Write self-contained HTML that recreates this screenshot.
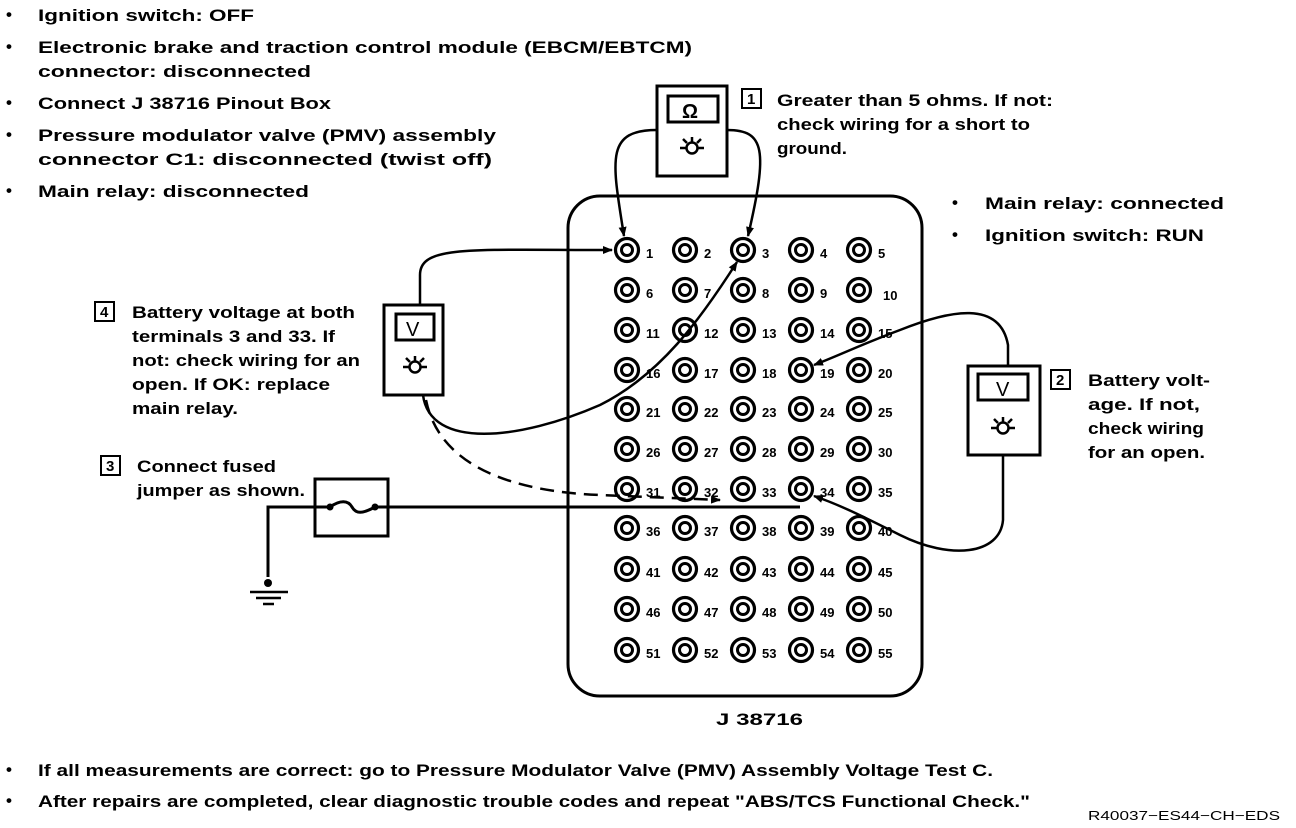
<!DOCTYPE html>
<html><head><meta charset="utf-8"><style>
html,body{margin:0;padding:0;background:#fff;}
svg{display:block;}
text{font-family:"Liberation Sans",sans-serif;font-weight:bold;fill:#000;}
.t{font-size:17px;}
.n{font-size:13px;}
</style></head><body>
<svg width="1296" height="828" viewBox="0 0 1296 828" xmlns="http://www.w3.org/2000/svg">
<defs>
<marker id="a" markerWidth="10" markerHeight="10" refX="9" refY="5" orient="auto" markerUnits="userSpaceOnUse">
<path d="M0,1 L10,5 L0,9 z" fill="#000"/></marker>
<g id="term"><circle r="11.5" fill="none" stroke="#000" stroke-width="3.2"/><circle r="5.5" fill="none" stroke="#000" stroke-width="3"/></g>
<g id="bulb"><circle r="5.5" fill="none" stroke="#000" stroke-width="2.5"/><path d="M-12,0 H-6 M6,0 H12 M0,-6 V-11 M-5,-5 L-9,-9 M5,-5 L9,-9" stroke="#000" stroke-width="2.5"/></g>
</defs>

<g class="t">
<text x="6" y="20">•</text><text x="38" y="21" textLength="216" lengthAdjust="spacingAndGlyphs">Ignition switch: OFF</text>
<text x="6" y="52">•</text><text x="38" y="53" textLength="654" lengthAdjust="spacingAndGlyphs">Electronic brake and traction control module (EBCM/EBTCM)</text>
<text x="38" y="77" textLength="273" lengthAdjust="spacingAndGlyphs">connector:  disconnected</text>
<text x="6" y="108">•</text><text x="38" y="109" textLength="293" lengthAdjust="spacingAndGlyphs">Connect J 38716 Pinout Box</text>
<text x="6" y="140">•</text><text x="38" y="141" textLength="458" lengthAdjust="spacingAndGlyphs">Pressure modulator valve (PMV) assembly</text>
<text x="38" y="165" textLength="454" lengthAdjust="spacingAndGlyphs">connector C1: disconnected (twist off)</text>
<text x="6" y="196">•</text><text x="38" y="197" textLength="271" lengthAdjust="spacingAndGlyphs">Main relay: disconnected</text>

<text x="952" y="208">•</text><text x="985" y="209" textLength="239" lengthAdjust="spacingAndGlyphs">Main relay: connected</text>
<text x="952" y="240">•</text><text x="985" y="241" textLength="219" lengthAdjust="spacingAndGlyphs">Ignition switch: RUN</text>

<text x="6" y="775">•</text><text x="38" y="776" textLength="955" lengthAdjust="spacingAndGlyphs">If all measurements are correct: go to Pressure Modulator Valve (PMV) Assembly Voltage Test C.</text>
<text x="6" y="806">•</text><text x="38" y="807" textLength="992" lengthAdjust="spacingAndGlyphs">After repairs are completed, clear diagnostic trouble codes and repeat "ABS/TCS Functional Check."</text>
</g>
<text x="1088" y="820" style="font-size:13px;font-weight:normal" textLength="192" lengthAdjust="spacingAndGlyphs">R40037−ES44−CH−EDS</text>
<text x="716" y="725" class="t" textLength="87" lengthAdjust="spacingAndGlyphs">J 38716</text>

<rect x="657" y="86" width="70" height="90" fill="none" stroke="#000" stroke-width="3"/>
<rect x="668" y="96" width="50" height="26" fill="none" stroke="#000" stroke-width="3"/>
<text x="682" y="118" style="font-size:20px">Ω</text>
<use href="#bulb" x="692" y="148"/>
<rect x="742" y="89" width="19" height="19" fill="none" stroke="#000" stroke-width="2"/>
<text x="747" y="104" style="font-size:15px">1</text>
<g class="t"><text x="777" y="106" textLength="276" lengthAdjust="spacingAndGlyphs">Greater than 5 ohms. If not:</text>
<text x="777" y="130" textLength="253" lengthAdjust="spacingAndGlyphs">check wiring for a short to</text>
<text x="777" y="154" textLength="70" lengthAdjust="spacingAndGlyphs">ground.</text></g>

<rect x="384" y="305" width="59" height="90" fill="none" stroke="#000" stroke-width="3"/>
<rect x="396" y="314" width="38" height="26" fill="none" stroke="#000" stroke-width="3"/>
<text x="406" y="336" style="font-size:20px;font-weight:normal">V</text>
<use href="#bulb" x="415" y="367"/>
<rect x="95" y="302" width="19" height="19" fill="none" stroke="#000" stroke-width="2"/>
<text x="100" y="317" style="font-size:15px">4</text>
<g class="t"><text x="132" y="318" textLength="223" lengthAdjust="spacingAndGlyphs">Battery voltage at both</text>
<text x="132" y="342" textLength="203" lengthAdjust="spacingAndGlyphs">terminals 3 and 33. If</text>
<text x="132" y="366" textLength="228" lengthAdjust="spacingAndGlyphs">not: check wiring for an</text>
<text x="132" y="390" textLength="198" lengthAdjust="spacingAndGlyphs">open. If OK: replace</text>
<text x="132" y="414" textLength="106" lengthAdjust="spacingAndGlyphs">main relay.</text></g>

<rect x="968" y="366" width="72" height="89" fill="none" stroke="#000" stroke-width="3"/>
<rect x="978" y="374" width="50" height="26" fill="none" stroke="#000" stroke-width="3"/>
<text x="996" y="396" style="font-size:20px;font-weight:normal">V</text>
<use href="#bulb" x="1003" y="428"/>
<rect x="1051" y="370" width="19" height="19" fill="none" stroke="#000" stroke-width="2"/>
<text x="1056" y="385" style="font-size:15px">2</text>
<g class="t"><text x="1088" y="386" textLength="122" lengthAdjust="spacingAndGlyphs">Battery volt-</text>
<text x="1088" y="410" textLength="112" lengthAdjust="spacingAndGlyphs">age. If not,</text>
<text x="1088" y="434" textLength="116" lengthAdjust="spacingAndGlyphs">check wiring</text>
<text x="1088" y="458" textLength="117" lengthAdjust="spacingAndGlyphs">for an open.</text></g>

<rect x="101" y="456" width="19" height="19" fill="none" stroke="#000" stroke-width="2"/>
<text x="106" y="471" style="font-size:15px">3</text>
<g class="t"><text x="137" y="472" textLength="139" lengthAdjust="spacingAndGlyphs">Connect fused</text>
<text x="137" y="496" textLength="168" lengthAdjust="spacingAndGlyphs">jumper as shown.</text></g>
<rect x="315" y="479" width="73" height="57" fill="none" stroke="#000" stroke-width="3"/>
<path d="M268,577 V507 H330 M375,507 H800" fill="none" stroke="#000" stroke-width="3"/>
<path d="M330,507 C340,500 348,500 352,507 C356,514 362,514 375,507" fill="none" stroke="#000" stroke-width="3"/>
<circle cx="330" cy="507" r="3.5"/><circle cx="375" cy="507" r="3.5"/>
<circle cx="268" cy="583" r="4"/>
<path d="M250,592 H288 M256,598 H281 M263,604 H274" stroke="#000" stroke-width="2.5"/>

<rect x="568" y="196" width="354" height="500" rx="32" fill="none" stroke="#000" stroke-width="3"/>
<g class="n">
<use href="#term" x="627" y="250"/><use href="#term" x="685" y="250"/><use href="#term" x="743" y="250"/><use href="#term" x="801" y="250"/><use href="#term" x="859" y="250"/>
<text x="646" y="258">1</text><text x="704" y="258">2</text><text x="762" y="258">3</text><text x="820" y="258">4</text><text x="878" y="258">5</text>
<use href="#term" x="627" y="290"/><use href="#term" x="685" y="290"/><use href="#term" x="743" y="290"/><use href="#term" x="801" y="290"/><use href="#term" x="859" y="290"/>
<text x="646" y="298">6</text><text x="704" y="298">7</text><text x="762" y="298">8</text><text x="820" y="298">9</text><text x="883" y="300">10</text>
<use href="#term" x="627" y="330"/><use href="#term" x="685" y="330"/><use href="#term" x="743" y="330"/><use href="#term" x="801" y="330"/><use href="#term" x="859" y="330"/>
<text x="646" y="338">11</text><text x="704" y="338">12</text><text x="762" y="338">13</text><text x="820" y="338">14</text><text x="878" y="338">15</text>
<use href="#term" x="627" y="370"/><use href="#term" x="685" y="370"/><use href="#term" x="743" y="370"/><use href="#term" x="801" y="370"/><use href="#term" x="859" y="370"/>
<text x="646" y="378">16</text><text x="704" y="378">17</text><text x="762" y="378">18</text><text x="820" y="378">19</text><text x="878" y="378">20</text>
<use href="#term" x="627" y="409"/><use href="#term" x="685" y="409"/><use href="#term" x="743" y="409"/><use href="#term" x="801" y="409"/><use href="#term" x="859" y="409"/>
<text x="646" y="417">21</text><text x="704" y="417">22</text><text x="762" y="417">23</text><text x="820" y="417">24</text><text x="878" y="417">25</text>
<use href="#term" x="627" y="449"/><use href="#term" x="685" y="449"/><use href="#term" x="743" y="449"/><use href="#term" x="801" y="449"/><use href="#term" x="859" y="449"/>
<text x="646" y="457">26</text><text x="704" y="457">27</text><text x="762" y="457">28</text><text x="820" y="457">29</text><text x="878" y="457">30</text>
<use href="#term" x="627" y="489"/><use href="#term" x="685" y="489"/><use href="#term" x="743" y="489"/><use href="#term" x="801" y="489"/><use href="#term" x="859" y="489"/>
<text x="646" y="497">31</text><text x="704" y="497">32</text><text x="762" y="497">33</text><text x="820" y="497">34</text><text x="878" y="497">35</text>
<use href="#term" x="627" y="528"/><use href="#term" x="685" y="528"/><use href="#term" x="743" y="528"/><use href="#term" x="801" y="528"/><use href="#term" x="859" y="528"/>
<text x="646" y="536">36</text><text x="704" y="536">37</text><text x="762" y="536">38</text><text x="820" y="536">39</text><text x="878" y="536">40</text>
<use href="#term" x="627" y="569"/><use href="#term" x="685" y="569"/><use href="#term" x="743" y="569"/><use href="#term" x="801" y="569"/><use href="#term" x="859" y="569"/>
<text x="646" y="577">41</text><text x="704" y="577">42</text><text x="762" y="577">43</text><text x="820" y="577">44</text><text x="878" y="577">45</text>
<use href="#term" x="627" y="609"/><use href="#term" x="685" y="609"/><use href="#term" x="743" y="609"/><use href="#term" x="801" y="609"/><use href="#term" x="859" y="609"/>
<text x="646" y="617">46</text><text x="704" y="617">47</text><text x="762" y="617">48</text><text x="820" y="617">49</text><text x="878" y="617">50</text>
<use href="#term" x="627" y="650"/><use href="#term" x="685" y="650"/><use href="#term" x="743" y="650"/><use href="#term" x="801" y="650"/><use href="#term" x="859" y="650"/>
<text x="646" y="658">51</text><text x="704" y="658">52</text><text x="762" y="658">53</text><text x="820" y="658">54</text><text x="878" y="658">55</text>
</g>

<g fill="none" stroke="#000" stroke-width="2.5">
<path d="M657,130 C605,130 612,160 624,236" marker-end="url(#a)"/>
<path d="M727,130 C765,130 768,150 748,236" marker-end="url(#a)"/>
<path d="M420,305 V275 C420,245 470,250 612,250" marker-end="url(#a)"/>
<path d="M423,395 C430,450 520,440 600,405 C660,375 700,320 737,262" marker-end="url(#a)"/>
<path d="M426,400 C440,470 520,492 600,495 L720,500" stroke-dasharray="14,8" marker-end="url(#a)"/>
<path d="M1008,366 V345 C1000,300 950,310 900,330 C860,345 840,355 814,365" marker-end="url(#a)"/>
<path d="M1003,455 V520 C1000,555 950,560 900,535 C860,515 840,505 814,496" marker-end="url(#a)"/>
</g>
</svg>
</body></html>
